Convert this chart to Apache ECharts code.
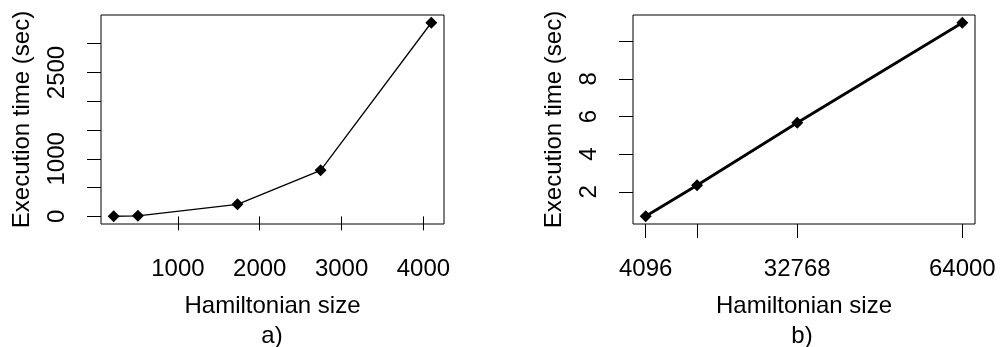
<!DOCTYPE html>
<html>
<head>
<meta charset="utf-8">
<script src="https://cdn.jsdelivr.net/npm/echarts@6/dist/echarts.min.js"></script>
<style>
  html, body { margin: 0; padding: 0; background: #fff; }
  #chart { width: 1001px; height: 347px; }
</style>
</head>
<body>
<div id="chart"></div>
<script>
// a) small Hamiltonians
const sizesA = [216, 512, 1728, 2744, 4096];
const timesA = [2, 10, 210, 800, 3365];
// b) large Hamiltonians
const sizesB = [4096, 13824, 32768, 64000];
const timesB = [0.7, 2.35, 5.67, 10.98];

const xTicksA = [1000, 2000, 3000, 4000];
const yTicksA = [0, 500, 1000, 1500, 2000, 2500, 3000];
const yLabelsA = [0, 1000, 2500];
const xTicksB = [4096, 13824, 32768, 64000];
const xLabelsB = [4096, 32768, 64000];
const yTicksB = [2, 4, 6, 8, 10];
const yLabelsB = [2, 4, 6, 8];

const FONT = 'Liberation Sans, Arial, sans-serif';

// R-style range: data range padded by 4% on each side
function padRange(arr) {
  const lo = Math.min(...arr), hi = Math.max(...arr);
  const pad = (hi - lo) * 0.04;
  return [lo - pad, hi + pad];
}

function xAxisOpt(idx, vals, ticks, labels) {
  const r = padRange(vals);
  return {
    type: 'value', gridIndex: idx, min: r[0], max: r[1],
    name: 'Hamiltonian size', nameLocation: 'middle', nameGap: 70,
    nameTextStyle: { color: '#000', fontSize: 24, fontFamily: FONT },
    axisLine: { show: false },
    axisTick: { show: true, length: 14, customValues: ticks, lineStyle: { color: '#000', width: 1 } },
    axisLabel: { customValues: labels, margin: 33, color: '#000', fontSize: 24, fontFamily: FONT, formatter: v => String(v) },
    splitLine: { show: false }
  };
}

function yAxisOpt(idx, vals, ticks, labels) {
  const r = padRange(vals);
  return {
    type: 'value', gridIndex: idx, min: r[0], max: r[1],
    name: 'Execution time (sec)', nameLocation: 'middle', nameGap: 67,
    nameTextStyle: { color: '#000', fontSize: 24, fontFamily: FONT },
    axisLine: { show: false },
    axisTick: { show: true, length: 14, customValues: ticks, lineStyle: { color: '#000', width: 1 } },
    axisLabel: { customValues: labels, rotate: 90, margin: 32, color: '#000', fontSize: 24, fontFamily: FONT, formatter: v => String(v) },
    splitLine: { show: false }
  };
}

const chart = echarts.init(document.getElementById('chart'));
chart.setOption({
  animation: false,
  backgroundColor: '#fff',
  grid: [
    { left: 101, top: 15, width: 343, height: 209, show: true, borderColor: '#000', borderWidth: 1, backgroundColor: 'transparent' },
    { left: 633, top: 15, width: 342, height: 209, show: true, borderColor: '#000', borderWidth: 1, backgroundColor: 'transparent' }
  ],
  xAxis: [
    xAxisOpt(0, sizesA, xTicksA, xTicksA),
    xAxisOpt(1, sizesB, xTicksB, xLabelsB)
  ],
  yAxis: [
    yAxisOpt(0, timesA, yTicksA, yLabelsA),
    yAxisOpt(1, timesB, yTicksB, yLabelsB)
  ],
  graphic: [
    { type: 'text', x: 272, y: 336, style: { text: 'a)', fill: '#000', font: '24px ' + FONT, textAlign: 'center', textVerticalAlign: 'middle' } },
    { type: 'text', x: 802, y: 336, style: { text: 'b)', fill: '#000', font: '24px ' + FONT, textAlign: 'center', textVerticalAlign: 'middle' } }
  ],
  series: [
    {
      type: 'line', xAxisIndex: 0, yAxisIndex: 0,
      data: sizesA.map((s, i) => [s, timesA[i]]),
      symbol: 'diamond', symbolSize: 12,
      lineStyle: { color: '#000', width: 1.3 },
      itemStyle: { color: '#000' }
    },
    {
      type: 'line', xAxisIndex: 1, yAxisIndex: 1,
      data: sizesB.map((s, i) => [s, timesB[i]]),
      symbol: 'diamond', symbolSize: 12,
      lineStyle: { color: '#000', width: 2.8 },
      itemStyle: { color: '#000' }
    }
  ]
});
</script>
</body>
</html>
